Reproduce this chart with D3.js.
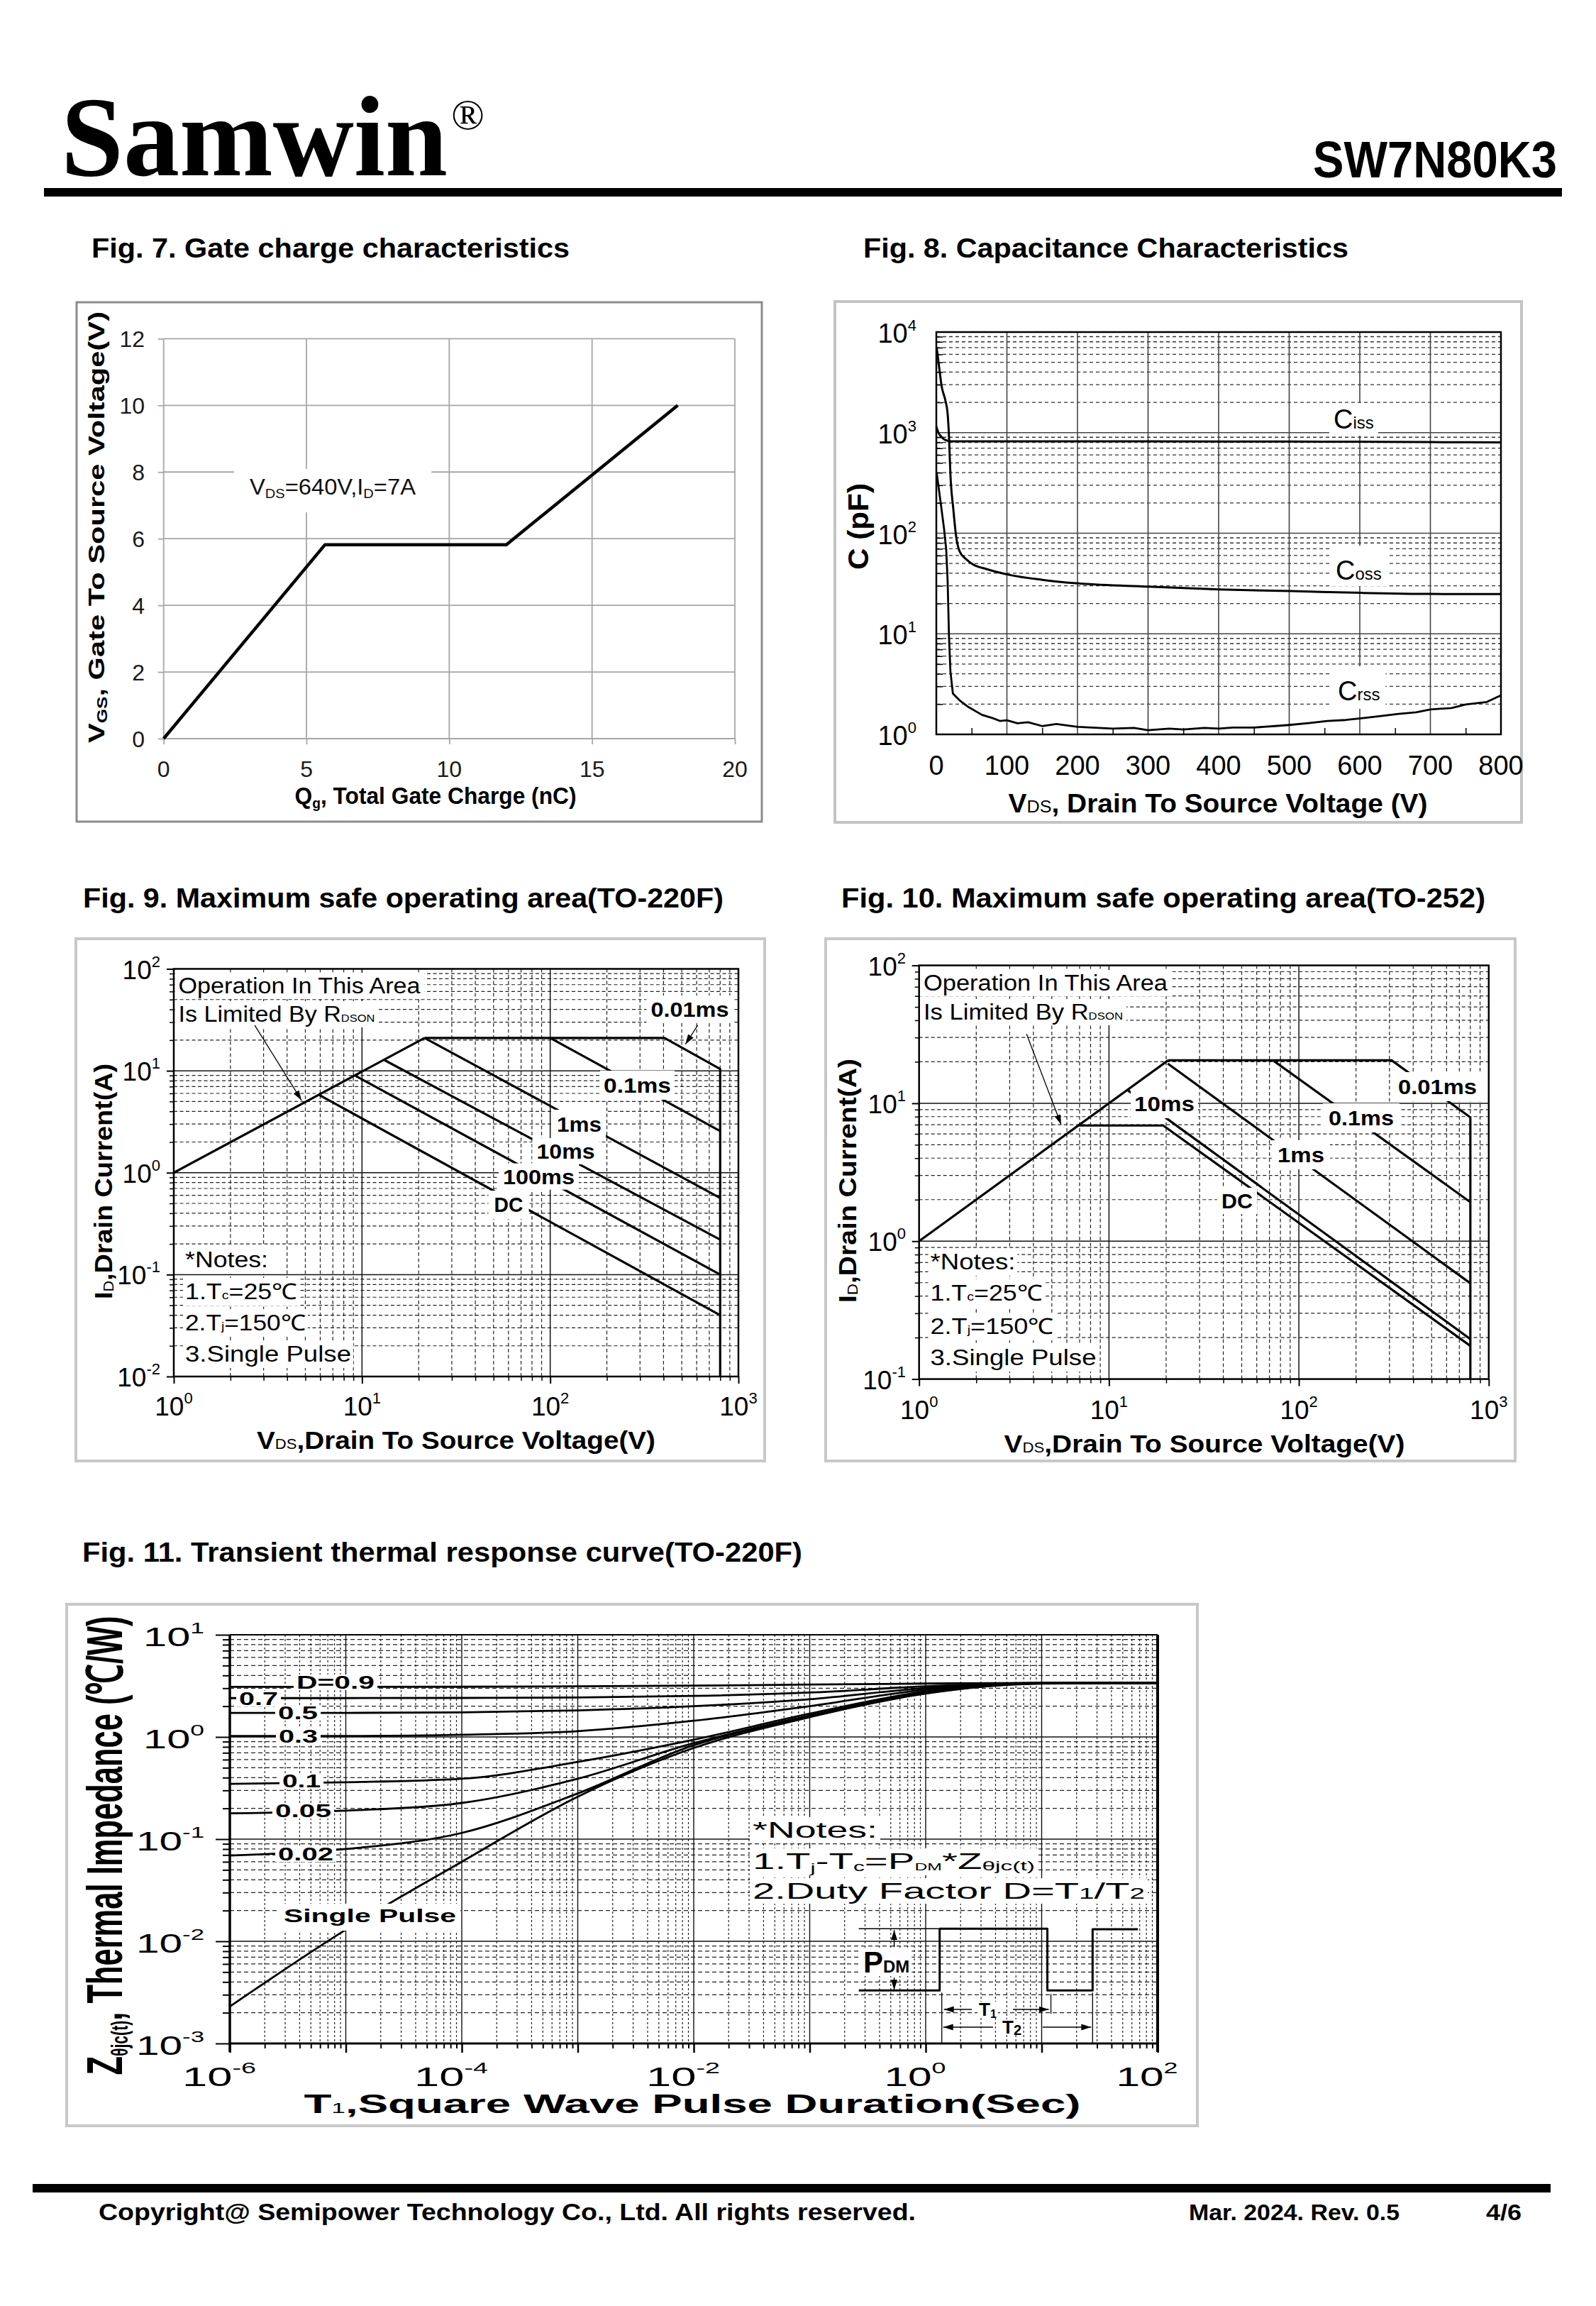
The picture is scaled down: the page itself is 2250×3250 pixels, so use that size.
<!DOCTYPE html>
<html><head><meta charset="utf-8">
<script src="https://cdn.jsdelivr.net/npm/d3@7"></script>
<style>body{margin:0;background:#fff}</style>
</head><body>
<svg id="page" width="2250" height="3250" xmlns="http://www.w3.org/2000/svg"></svg>
<script>
// ================= DATA =================
// Fig 7 gate charge
const fig7Q = [0, 5.65, 12.0, 18.0];
const fig7V = [0, 5.82, 5.82, 10.0];
const fig7XTicks = [0, 5, 10, 15, 20];
const fig7YTicks = [0, 2, 4, 6, 8, 10, 12];

// Fig 8 capacitance
const fig8XTicks = [0, 100, 200, 300, 400, 500, 600, 700, 800];
const fig8YExp = [0, 1, 2, 3, 4];
const cissV = [0, 3, 6, 10, 15, 20, 100, 300, 500, 600, 700, 800];
const cissC = [1150, 1000, 930, 870, 835, 820, 818, 818, 815, 812, 805, 800];
const cossV = [0.5, 4.4, 7.6, 12.7, 16, 17.8, 20, 24, 28, 33, 42.5, 52, 71, 103, 150, 198, 300, 401, 503, 604, 700, 800];
const cossC = [7000, 4250, 2880, 2110, 1550, 970, 380, 176, 94, 66, 55, 49, 44, 38.6, 34.4, 31.8, 29.4, 27.6, 26.6, 25.5, 24.9, 24.8];
const crssV = [0.5, 6, 11, 14, 16, 18, 20, 23.5, 33, 46, 65, 80, 90, 100, 115, 130, 150, 170, 200, 230, 250, 280, 300, 330, 350, 380, 400, 420, 450, 480, 500, 530, 554, 580, 604, 630, 655, 680, 700, 730, 750, 780, 800];
const crssC = [400, 205, 110, 69, 34, 9.2, 4.2, 2.54, 2.18, 1.86, 1.56, 1.45, 1.36, 1.38, 1.29, 1.32, 1.21, 1.27, 1.19, 1.16, 1.14, 1.16, 1.1, 1.14, 1.12, 1.16, 1.14, 1.17, 1.17, 1.21, 1.24, 1.3, 1.36, 1.39, 1.45, 1.52, 1.6, 1.66, 1.77, 1.83, 1.98, 2.1, 2.44];

// Fig 9 SOA TO-220F  [V, A]
const soaXExp = [0, 1, 2, 3];
const soa9YExp = [-2, -1, 0, 1, 2];
const soa9Rdson = [[1, 1], [21.5, 21]];
const soa9Limit = [[21.5, 21], [405, 21], [800, 10.4], [800, 0.01]];
const soa9_01ms = [[100, 21], [800, 2.56]];
const soa9_1ms = [[21.5, 21], [800, 0.565]];
const soa9_10ms = [[13.2, 12.7], [800, 0.22]];
const soa9_100ms = [[9.26, 8.9], [800, 0.1]];
const soa9_DC = [[5.94, 5.77], [800, 0.04]];

// Fig 10 SOA TO-252  [V, A]
const soa10YExp = [-1, 0, 1, 2];
const soa10Rdson = [[1, 1], [20.5, 20.5]];
const soa10Limit = [[20.5, 20.5], [308, 20.5], [800, 7.9], [800, 0.1]];
const soa10_01ms = [[73, 20.5], [800, 1.92]];
const soa10_1ms = [[20.4, 19.4], [800, 0.495]];
const soa10_10ms = [[12.5, 12.5], [800, 0.195]];
const soa10_DC = [[6.9, 6.9], [19.3, 6.9], [800, 0.174]];

// Fig 11 transient thermal impedance
const thermalXExp = [-6, -5, -4, -3, -2, -1, 0, 1, 2];
const thermalYExp = [-3, -2, -1, 0, 1];
const thermalT = [1e-6, 1e-5, 1e-4, 1e-3, 1e-2, 1e-1, 1, 10, 100];
const zD09 = [3.09, 3.09, 3.10, 3.13, 3.18, 3.26, 3.33, 3.38, 3.38];
const zD07 = [2.40, 2.40, 2.41, 2.43, 2.52, 2.72, 3.13, 3.38, 3.38];
const zD05 = [1.72, 1.72, 1.74, 1.82, 2.00, 2.34, 3.01, 3.37, 3.38];
const zD03 = [1.02, 1.02, 1.05, 1.14, 1.44, 2.00, 2.90, 3.36, 3.38];
const zD01 = [0.347, 0.36, 0.39, 0.57, 0.94, 1.69, 2.79, 3.35, 3.38];
const zD005 = [0.179, 0.19, 0.226, 0.39, 0.87, 1.62, 2.72, 3.35, 3.38];
const zD002 = [0.069, 0.080, 0.115, 0.28, 0.83, 1.58, 2.66, 3.34, 3.38];
const zSingle = [0.0023, 0.013, 0.06, 0.26, 0.78, 1.56, 2.69, 3.33, 3.38];
const pulseT = [0.265, 1.32, 1.32, 11.2, 11.2, 27.5, 27.5, 67.5];
const pulseZ = [0.0033, 0.0033, 0.0133, 0.0133, 0.0033, 0.0033, 0.0131, 0.0131];

// ================= HELPERS =================
const SANS = "'Liberation Sans', Arial, Helvetica, sans-serif";
const SERIF = "'Liberation Serif', 'Times New Roman', serif";
const svg = d3.select("#page");
svg.append("rect").attr("width", 2250).attr("height", 3250).attr("fill", "#fff");
const defs = svg.append("defs");
defs.append("marker").attr("id", "ah").attr("viewBox", "0 0 10 10").attr("refX", 10).attr("refY", 5)
  .attr("markerWidth", 14).attr("markerHeight", 14).attr("markerUnits", "userSpaceOnUse").attr("orient", "auto")
  .append("path").attr("d", "M0,1.8L10,5L0,8.2z").attr("fill", "#000");

function txt(parent, x, y, parts, o = {}) {
  const t = parent.append("text").attr("x", x).attr("y", y)
    .attr("font-family", o.family || SANS).attr("font-size", o.size || 30)
    .attr("font-weight", o.weight || "normal").attr("fill", o.fill || "#000")
    .attr("text-anchor", o.anchor || "start");
  if (o.len) t.attr("textLength", o.len).attr("lengthAdjust", o.adjust || "spacingAndGlyphs");
  if (o.rotate) t.attr("transform", `rotate(${o.rotate},${x},${y})`);
  (Array.isArray(parts) ? parts : [parts]).forEach(p => {
    const [s, so] = typeof p === "string" ? [p, {}] : p;
    const sp = t.append("tspan").text(s);
    if (so.size) sp.attr("font-size", so.size);
    if (so.dy) sp.attr("dy", so.dy);
    if (so.weight) sp.attr("font-weight", so.weight);
  });
  return t;
}
function withBg(t, px = 5, pyTop = 4, pyBot = 4) {
  const b = t.node().getBBox();
  d3.select(t.node().parentNode).insert("rect", () => t.node())
    .attr("x", b.x - px).attr("y", b.y - pyTop).attr("width", b.width + 2 * px)
    .attr("height", b.height + pyTop + pyBot).attr("fill", "#fff");
  return t;
}
function decades(lo, hi) { const o = []; for (let e = lo; e <= hi; e++) o.push(Math.pow(10, e)); return o; }
function minors(lo, hi) { const o = []; for (let e = lo; e < hi; e++) for (let m = 2; m <= 9; m++) o.push(m * Math.pow(10, e)); return o; }
function box(x, y, w, h, color, sw) {
  svg.append("rect").attr("x", x).attr("y", y).attr("width", w).attr("height", h)
    .attr("fill", "none").attr("stroke", color).attr("stroke-width", sw);
}
function vlines(g, vals, xs, y0, y1, stroke, sw, dash) {
  g.append("g").selectAll("line").data(vals).join("line")
    .attr("x1", d => xs(d)).attr("x2", d => xs(d)).attr("y1", y0).attr("y2", y1)
    .attr("stroke", stroke).attr("stroke-width", sw).attr("stroke-dasharray", dash || null);
}
function hlines(g, vals, ys, x0, x1, stroke, sw, dash) {
  g.append("g").selectAll("line").data(vals).join("line")
    .attr("y1", d => ys(d)).attr("y2", d => ys(d)).attr("x1", x0).attr("x2", x1)
    .attr("stroke", stroke).attr("stroke-width", sw).attr("stroke-dasharray", dash || null);
}
function tickAxis(g, axis, tx, ty, color, sw) {
  const a = g.append("g").attr("transform", `translate(${tx},${ty})`).attr("color", color || "#000").call(axis);
  a.select(".domain").remove();
  a.selectAll("line").attr("stroke-width", sw || 1.5);
  return a;
}
function pathOf(g, pts, xs, ys, sw, curve) {
  return g.append("path").datum(pts)
    .attr("d", d3.line().x(d => xs(d[0])).y(d => ys(d[1])).curve(curve || d3.curveLinear))
    .attr("fill", "none").attr("stroke", "#000").attr("stroke-width", sw).attr("stroke-linejoin", "round");
}
function arrow(g, from, to, xs, ys, sw) {
  g.append("line").attr("x1", xs(from[0])).attr("y1", ys(from[1])).attr("x2", xs(to[0])).attr("y2", ys(to[1]))
    .attr("stroke", "#000").attr("stroke-width", sw || 1.3).attr("marker-end", "url(#ah)");
}
const zip = (a, b) => a.map((v, i) => [v, b[i]]);

// ================= HEADER / FOOTER =================
txt(svg, 86, 247, "Samwin", { family: SERIF, size: 160, weight: "bold", len: 545 });
txt(svg, 636, 182, "®", { family: SERIF, size: 62 });
txt(svg, 1851, 250, "SW7N80K3", { size: 72, weight: "bold", len: 344 });
svg.append("rect").attr("x", 62).attr("y", 265).attr("width", 2140).attr("height", 12).attr("fill", "#000");

txt(svg, 129, 363, "Fig. 7. Gate charge characteristics", { size: 38, weight: "bold", len: 674 });
txt(svg, 1217, 363, "Fig. 8. Capacitance Characteristics", { size: 38, weight: "bold", len: 684 });
txt(svg, 117, 1279, "Fig. 9. Maximum safe operating area(TO-220F)", { size: 38, weight: "bold", len: 903 });
txt(svg, 1186, 1279, "Fig. 10. Maximum safe operating area(TO-252)", { size: 38, weight: "bold", len: 908 });
txt(svg, 116, 2201, "Fig. 11. Transient thermal response curve(TO-220F)", { size: 38, weight: "bold", len: 1015 });

svg.append("rect").attr("x", 46).attr("y", 3078).attr("width", 2140).attr("height", 12).attr("fill", "#000");
txt(svg, 139, 3129, "Copyright@ Semipower Technology Co., Ltd. All rights reserved.", { size: 34, weight: "bold", len: 1152 });
txt(svg, 1676, 3129, "Mar. 2024. Rev. 0.5", { size: 32, weight: "bold", len: 297 });
txt(svg, 2095, 3129, "4/6", { size: 32, weight: "bold", len: 50 });

// ================= FIG 7 =================
(function () {
  box(108, 426, 966, 732, "#8c8c8c", 3);
  const g = svg.append("g");
  const xs = d3.scaleLinear().domain([0, 20]).range([230.7, 1036]);
  const ys = d3.scaleLinear().domain([0, 12]).range([1041, 477.4]);
  vlines(g, fig7XTicks, xs, ys(12), ys(0), "#a6a6a6", 1.8);
  hlines(g, fig7YTicks, ys, xs(0), xs(20), "#a6a6a6", 1.8);
  tickAxis(g, d3.axisLeft(ys).tickValues(fig7YTicks).tickSize(8).tickFormat(""), xs(0), 0, "#a6a6a6", 1.8);
  tickAxis(g, d3.axisBottom(xs).tickValues(fig7XTicks).tickSize(8).tickFormat(""), 0, ys(0), "#a6a6a6", 1.8);
  fig7YTicks.forEach(v => txt(g, 204, ys(v) + 12, String(v), { size: 32, anchor: "end", fill: "#1a1a1a" }));
  fig7XTicks.forEach(v => txt(g, xs(v), 1095, String(v), { size: 32, anchor: "middle", fill: "#1a1a1a" }));
  const t = txt(g, 352, 697, ["V", ["DS", { size: 19, dy: 5 }], ["=640V,I", { dy: -5 }], ["D", { size: 19, dy: 5 }], ["=7A", { dy: -5 }]], { size: 31, len: 234, fill: "#111" });
  const b = t.node().getBBox();
  g.insert("rect", () => t.node()).attr("x", b.x - 22).attr("y", b.y - 8).attr("width", b.width + 44).attr("height", b.height + 24).attr("fill", "#fff");
  pathOf(g, zip(fig7Q, fig7V), xs, ys, 4.5);
  txt(g, 614, 1133, ["Q", ["g", { size: 20, dy: 6 }], [", Total Gate Charge (nC)", { dy: -6 }]], { size: 33, weight: "bold", anchor: "middle", len: 397 });
  txt(g, 147, 743, ["V", ["GS", { size: 20, dy: 4 }], [",   Gate To  Source Voltage(V)", { dy: -4 }]], { size: 32, weight: "bold", anchor: "middle", len: 608, rotate: -90 });
})();

// ================= FIG 8 =================
(function () {
  box(1177, 425, 968, 734, "#c4c4c4", 4);
  const g = svg.append("g");
  const xs = d3.scaleLinear().domain([0, 800]).range([1320, 2116]);
  const ys = d3.scaleLog().domain([1, 1e4]).range([1035, 468]);
  hlines(g, minors(0, 4), ys, xs(0), xs(800), "#333", 1.3, "5,4");
  hlines(g, decades(1, 3), ys, xs(0), xs(800), "#444", 1.6);
  vlines(g, fig8XTicks.slice(1, -1), xs, ys(1e4), ys(1), "#444", 1.6);
  tickAxis(g, d3.axisLeft(ys).tickValues(minors(0, 4)).tickSize(-9).tickFormat(""), xs(0), 0);
  tickAxis(g, d3.axisBottom(xs).tickValues(d3.range(50, 800, 100)).tickSize(-9).tickFormat(""), 0, ys(1));
  withBg(txt(g, 1880, 604, ["C", ["iss", { size: 24 }]], { size: 38 }), 6, 2, 2);
  withBg(txt(g, 1883, 817, ["C", ["oss", { size: 24 }]], { size: 38 }), 8, 14, 1);
  withBg(txt(g, 1886, 987, ["C", ["rss", { size: 24 }]], { size: 38 }), 8, 14, 4);
  pathOf(g, zip(cissV, cissC), xs, ys, 3, d3.curveMonotoneX);
  pathOf(g, zip(cossV, cossC), xs, ys, 3, d3.curveMonotoneX);
  pathOf(g, zip(crssV, crssC), xs, ys, 2.8);
  g.append("rect").attr("x", xs(0)).attr("y", ys(1e4)).attr("width", xs(800) - xs(0)).attr("height", ys(1) - ys(1e4))
    .attr("fill", "none").attr("stroke", "#000").attr("stroke-width", 2.5);
  fig8YExp.forEach(e => txt(g, 1292, ys(Math.pow(10, e)) + 15, ["10", [String(e), { size: 22, dy: -17 }]], { size: 38, anchor: "end" }));
  fig8XTicks.forEach(v => txt(g, xs(v), 1092, String(v), { size: 38, anchor: "middle" }));
  txt(g, 1717, 1145, ["V", ["DS", { size: 24, weight: "normal" }], ", Drain To Source Voltage (V)"], { size: 37, weight: "bold", anchor: "middle", len: 591 });
  txt(g, 1224, 742, "C (pF)", { size: 40, weight: "bold", anchor: "middle", len: 122, rotate: -90 });
})();

// ================= SOA helper =================
function soaFrame(g, xs, ys, yLo, yHi) {
  const X0 = xs(1), X1 = xs(1000), Y0 = ys(Math.pow(10, yLo)), Y1 = ys(Math.pow(10, yHi));
  hlines(g, minors(yLo, yHi), ys, X0, X1, "#222", 1.2, "5,3.5");
  vlines(g, minors(0, 3), xs, Y1, Y0, "#222", 1.2, "5,3.5");
  hlines(g, decades(yLo + 1, yHi - 1), ys, X0, X1, "#111", 1.5);
  vlines(g, decades(1, 2), xs, Y1, Y0, "#111", 1.5);
  return { X0, X1, Y0, Y1 };
}
function soaAxes(g, xs, ys, yLo, yHi, fr, yLabX, xLabY) {
  g.append("rect").attr("x", fr.X0).attr("y", fr.Y1).attr("width", fr.X1 - fr.X0).attr("height", fr.Y0 - fr.Y1)
    .attr("fill", "none").attr("stroke", "#000").attr("stroke-width", 2.5);
  tickAxis(g, d3.axisLeft(ys).tickValues(decades(yLo, yHi)).tickSize(10).tickFormat(""), fr.X0, 0, "#000", 2);
  tickAxis(g, d3.axisLeft(ys).tickValues(minors(yLo, yHi)).tickSize(6).tickFormat(""), fr.X0, 0, "#000", 1.5);
  tickAxis(g, d3.axisBottom(xs).tickValues(decades(0, 3)).tickSize(10).tickFormat(""), 0, fr.Y0, "#000", 2);
  tickAxis(g, d3.axisBottom(xs).tickValues(minors(0, 3)).tickSize(6).tickFormat(""), 0, fr.Y0, "#000", 1.5);
  for (let e = yLo; e <= yHi; e++) txt(g, yLabX, ys(Math.pow(10, e)) + 14, ["10", [String(e), { size: 22, dy: -17 }]], { size: 37, anchor: "end" });
  soaXExp.forEach(e => txt(g, xs(Math.pow(10, e)), xLabY, ["10", [String(e), { size: 22, dy: -17 }]], { size: 37, anchor: "middle" }));
}
function notes(g, x, b0, b1, b2, b3, lens) {
  withBg(txt(g, x, b0, "*Notes:", { size: 31, len: lens[0] }), 3, 2, 2);
  withBg(txt(g, x, b1, ["1.T", ["c", { size: 17 }], "=25℃"], { size: 31, len: lens[1] }), 3, 2, 2);
  withBg(txt(g, x, b2, ["2.T", ["j", { size: 17 }], "=150℃"], { size: 31, len: lens[2] }), 3, 2, 2);
  withBg(txt(g, x, b3, "3.Single Pulse", { size: 31, len: lens[3] }), 3, 2, 2);
}

// ================= FIG 9 =================
(function () {
  box(107, 1323, 971, 736, "#c8c8c8", 4);
  const g = svg.append("g");
  const xs = d3.scaleLog().domain([1, 1000]).range([245, 1041]);
  const ys = d3.scaleLog().domain([0.01, 100]).range([1940, 1365.5]);
  const fr = soaFrame(g, xs, ys, -2, 2);
  [soa9Rdson, soa9Limit, soa9_01ms, soa9_1ms, soa9_10ms, soa9_100ms, soa9_DC].forEach(p => pathOf(g, p, xs, ys, 3.2));
  withBg(txt(g, 251.5, 1400, "Operation In This Area", { size: 31, len: 341 }), 5, 1, 1);
  withBg(txt(g, 251.5, 1440, ["Is Limited By R", ["DSON", { size: 15 }]], { size: 31, len: 277 }), 5, 1, 1);
  withBg(txt(g, 917.5, 1433, "0.01ms", { size: 30, weight: "bold", len: 110 }), 6, 3, 3);
  withBg(txt(g, 851, 1540, "0.1ms", { size: 30, weight: "bold", len: 95 }), 5, 4, 4);
  withBg(txt(g, 785, 1595, "1ms", { size: 30, weight: "bold", len: 63 }), 6, 4, 4);
  withBg(txt(g, 756.5, 1633, "10ms", { size: 30, weight: "bold", len: 82 }), 6, 2, 2);
  withBg(txt(g, 709, 1668.6, "100ms", { size: 30, weight: "bold", len: 101 }), 6, 2, 2);
  withBg(txt(g, 696.6, 1708, "DC", { size: 30, weight: "bold", len: 41 }), 8, 3, 4);
  arrow(g, [2.69, 28], [4.77, 5.14], xs, ys);
  arrow(g, [608, 28], [523, 18.2], xs, ys);
  notes(g, 261, 1786, 1831, 1875, 1919, [117, 158, 170, 234]);
  soaAxes(g, xs, ys, -2, 2, fr, 226, 1995);
  txt(g, 643, 2042, ["V", ["DS", { size: 20, weight: "normal" }], ",Drain To Source Voltage(V)"], { size: 35, weight: "bold", anchor: "middle", len: 562 });
  txt(g, 158, 1665, ["I", ["D", { size: 20, weight: "normal", dy: 2 }], [",Drain Current(A)", { dy: -2 }]], { size: 35, weight: "bold", anchor: "middle", len: 332, rotate: -90 });
})();

// ================= FIG 10 =================
(function () {
  box(1164, 1323, 972, 736, "#c8c8c8", 4);
  const g = svg.append("g");
  const xs = d3.scaleLog().domain([1, 1000]).range([1295.7, 2098.8]);
  const ys = d3.scaleLog().domain([0.1, 100]).range([1943.6, 1360.6]);
  const fr = soaFrame(g, xs, ys, -1, 2);
  [soa10Rdson, soa10Limit, soa10_01ms, soa10_1ms, soa10_10ms, soa10_DC].forEach(p => pathOf(g, p, xs, ys, 3.2));
  withBg(txt(g, 1302, 1396, "Operation In This Area", { size: 31, len: 344 }), 5, 1, 1);
  withBg(txt(g, 1302, 1437, ["Is Limited By R", ["DSON", { size: 15 }]], { size: 31, len: 281 }), 5, 1, 1);
  withBg(txt(g, 1971, 1542, "0.01ms", { size: 30, weight: "bold", len: 111 }), 8, 4, 4);
  withBg(txt(g, 1873, 1586, "0.1ms", { size: 30, weight: "bold", len: 92 }), 8, 4, 4);
  withBg(txt(g, 1801, 1638, "1ms", { size: 30, weight: "bold", len: 66 }), 8, 4, 4);
  withBg(txt(g, 1599, 1566, "10ms", { size: 30, weight: "bold", len: 85 }), 5, 2, 4);
  withBg(txt(g, 1722, 1703, "DC", { size: 30, weight: "bold", len: 44 }), 6, 2, 2);
  arrow(g, [3.68, 31.8], [5.6, 7.0], xs, ys);
  notes(g, 1311.5, 1789, 1833, 1880, 1924, [120, 158, 174, 234]);
  soaAxes(g, xs, ys, -1, 2, fr, 1277, 2000);
  txt(g, 1698, 2047, ["V", ["DS", { size: 20, weight: "normal" }], ",Drain To Source Voltage(V)"], { size: 35, weight: "bold", anchor: "middle", len: 565 });
  txt(g, 1207, 1664, ["I", ["D", { size: 20, weight: "normal", dy: 2 }], [",Drain Current(A)", { dy: -2 }]], { size: 35, weight: "bold", anchor: "middle", len: 344, rotate: -90 });
})();

// ================= FIG 11 =================
(function () {
  box(94, 2261, 1594, 735, "#c8c8c8", 4);
  const g = svg.append("g");
  const xs = d3.scaleLog().domain([1e-6, 100]).range([324, 1632]);
  const ys = d3.scaleLog().domain([1e-3, 10]).range([2880, 2304]);
  const X0 = xs(1e-6), X1 = xs(100), Y0 = ys(1e-3), Y1 = ys(10);
  hlines(g, minors(-3, 1), ys, X0, X1, "#222", 1.2, "6,4");
  vlines(g, minors(-6, 2), xs, Y1, Y0, "#222", 1.2, "3,3");
  hlines(g, decades(-2, 0), ys, X0, X1, "#111", 1.4);
  vlines(g, decades(-5, 1), xs, Y1, Y0, "#111", 1.4);
  [zD09, zD07, zD05, zD03, zD01, zD005, zD002, zSingle].forEach(z => pathOf(g, zip(thermalT, z), xs, ys, 2.8, d3.curveMonotoneX));
  const lab = (x, y, s, len) => withBg(txt(g, x, y, s, { size: 25, weight: "bold", len: len }), 4, -3, -3);
  lab(418, 2380, "D=0.9", 110);
  lab(337, 2403, "0.7", 55);
  lab(392, 2423, "0.5", 56);
  lab(393, 2456, "0.3", 55);
  lab(398, 2519, "0.1", 54);
  lab(388, 2561, "0.05", 79);
  lab(392, 2622, "0.02", 78);
  withBg(txt(g, 400, 2709, "Single Pulse", { size: 26, weight: "bold", len: 243 }), 6, 2, 6);
  withBg(txt(g, 1061, 2590, "*Notes:", { size: 32, len: 176 }), 4, 0, 0);
  withBg(txt(g, 1061, 2634, ["1.T", ["j", { size: 18, dy: 5 }], ["-T", { dy: -5 }], ["c", { size: 18, dy: 3 }], ["=P", { dy: -3 }],
    ["DM", { size: 14, dy: 2 }], ["*Z", { dy: -2 }], ["θjc(t)", { size: 19, dy: 2 }]], { size: 32, len: 398 }), 4, 0, 0);
  withBg(txt(g, 1061, 2676, ["2.Duty Factor D=T", ["1", { size: 22 }], "/T", ["2", { size: 22 }]], { size: 32, len: 553 }), 4, 0, 0);
  // pulse diagram
  g.append("line").attr("x1", xs(0.265)).attr("x2", xs(1.3)).attr("y1", ys(0.0133)).attr("y2", ys(0.0133)).attr("stroke", "#000").attr("stroke-width", 1.5);
  pathOf(g, zip(pulseT, pulseZ), xs, ys, 3);
  const ax = xs(0.535);
  const pdm = txt(g, 1217, 2780, ["P", ["DM", { size: 24 }]], { size: 42, weight: "bold" });
  withBg(pdm, 3, -4, -4);
  g.append("line").attr("x1", ax).attr("x2", ax).attr("y1", ys(0.0133) + 26).attr("y2", ys(0.0133) + 2).attr("stroke", "#000").attr("stroke-width", 1.5).attr("marker-end", "url(#ah)");
  g.append("line").attr("x1", ax).attr("x2", ax).attr("y1", ys(0.0033) - 18).attr("y2", ys(0.0033) - 1).attr("stroke", "#000").attr("stroke-width", 1.5).attr("marker-end", "url(#ah)");
  const xr1 = xs(1.32), xf = xs(11.2), xr2 = xs(27.5);
  [[xr1 + 3, ys(0.0033) + 3, Y0], [xf + 5, ys(0.0033) + 5, ys(0.0033) + 33], [xr2, ys(0.0033) + 3, Y0]].forEach(v =>
    g.append("line").attr("x1", v[0]).attr("x2", v[0]).attr("y1", v[1]).attr("y2", v[2]).attr("stroke", "#000").attr("stroke-width", 1.3));
  const yT1 = 2832, yT2 = 2857;
  withBg(txt(g, 1380, yT1 + 9, ["T", ["1", { size: 16, dy: 3 }]], { size: 26, weight: "bold" }), 2, -4, -4);
  withBg(txt(g, 1413, yT2 + 9, ["T", ["2", { size: 20, dy: 2 }]], { size: 26, weight: "bold" }), 2, -4, -4);
  [[1370, xr1 + 6, yT1], [1428, xf + 2, yT1], [1400, xr1 + 5, yT2], [1470, xr2 - 2, yT2]].forEach(a =>
    g.append("line").attr("x1", a[0]).attr("x2", a[1]).attr("y1", a[2]).attr("y2", a[2]).attr("stroke", "#000").attr("stroke-width", 1.3).attr("marker-end", "url(#ah)"));
  // frame & ticks
  g.append("line").attr("x1", X0).attr("x2", X1).attr("y1", Y1).attr("y2", Y1).attr("stroke", "#000").attr("stroke-width", 2);
  g.append("line").attr("x1", X0).attr("x2", X1).attr("y1", Y0).attr("y2", Y0).attr("stroke", "#000").attr("stroke-width", 3);
  g.append("line").attr("x1", X0).attr("x2", X0).attr("y1", Y1).attr("y2", Y0 + 12).attr("stroke", "#000").attr("stroke-width", 3.5);
  g.append("line").attr("x1", X1).attr("x2", X1).attr("y1", Y1).attr("y2", Y0 + 12).attr("stroke", "#000").attr("stroke-width", 4);
  tickAxis(g, d3.axisLeft(ys).tickValues(decades(-3, 1)).tickSize(20).tickFormat(""), X0, 0, "#000", 2);
  tickAxis(g, d3.axisLeft(ys).tickValues(minors(-3, 1)).tickSize(10).tickFormat(""), X0, 0, "#000", 2);
  tickAxis(g, d3.axisBottom(xs).tickValues(decades(-6, 2)).tickSize(13).tickFormat(""), 0, Y0, "#000", 2.5);
  tickAxis(g, d3.axisBottom(xs).tickValues(minors(-6, 2)).tickSize(7).tickFormat(""), 0, Y0, "#000", 2);
  thermalYExp.forEach(e => txt(g, 288, ys(Math.pow(10, e)) + 16, ["10", [String(e), { size: 22, dy: -18 }]], { size: 37, anchor: "end", len: e < 0 ? 96 : 86 }));
  [-6, -4, -2, 0, 2].forEach(e => txt(g, xs(Math.pow(10, e)) - 15, 2940, ["10", [String(e), { size: 22, dy: -18 }]], { size: 37, anchor: "middle", len: e < 0 ? 104 : 87 }));
  txt(g, 976, 2978, ["T", ["1", { size: 20, weight: "normal" }], ",Square Wave Pulse Duration(Sec)"], { size: 36, weight: "bold", anchor: "middle", len: 1095 });
  txt(g, 172, 2601, ["Z", ["θjc(t)", { size: 34, dy: 8 }], [",", { dy: -8 }], "  Thermal  Impedance (℃/W)"], { size: 70, weight: "bold", anchor: "middle", len: 647, rotate: -90 });
})();
</script>
</body></html>
